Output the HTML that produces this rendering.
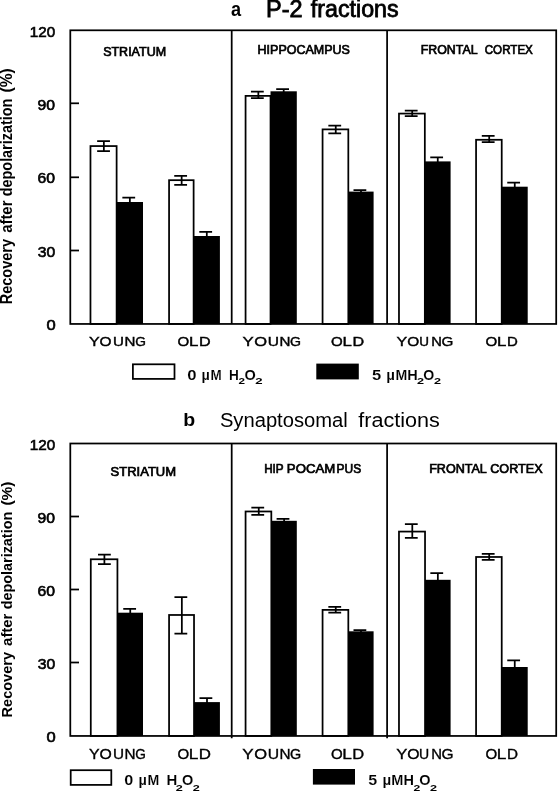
<!DOCTYPE html>
<html><head><meta charset="utf-8"><title>Figure</title>
<style>html,body{margin:0;padding:0;background:#fff}svg{display:block;will-change:transform}</style></head>
<body>
<svg width="558" height="791" viewBox="0 0 558 791" font-family='"Liberation Sans", sans-serif' fill="#000">
<rect width="558" height="791" fill="#fff"/>
<!-- upper chart -->
<rect x="90.47" y="146.07" width="26.15" height="177.88" fill="#fff" stroke="#000" stroke-width="1.75"/>
<rect x="116.62" y="202.00" width="26.38" height="121.95" fill="#000"/>
<path d="M97.15 141.00H109.95M97.15 151.20H109.95M103.85 141.00V151.20" stroke="#000" stroke-width="1.75" fill="none"/>
<path d="M122.35 197.50H135.15M129.85 197.50V203.00" stroke="#000" stroke-width="1.75" fill="none"/>
<rect x="169.07" y="180.18" width="24.55" height="143.77" fill="#fff" stroke="#000" stroke-width="1.75"/>
<rect x="193.62" y="236.00" width="26.28" height="87.95" fill="#000"/>
<path d="M174.25 175.80H187.05M174.25 184.90H187.05M181.65 175.80V184.90" stroke="#000" stroke-width="1.75" fill="none"/>
<path d="M199.30 231.90H212.10M206.80 231.90V237.00" stroke="#000" stroke-width="1.75" fill="none"/>
<rect x="245.57" y="95.88" width="24.95" height="228.07" fill="#fff" stroke="#000" stroke-width="1.75"/>
<rect x="270.52" y="91.30" width="26.28" height="232.65" fill="#000"/>
<path d="M250.95 91.60H263.75M250.95 98.00H263.75M258.35 91.60V98.00" stroke="#000" stroke-width="1.75" fill="none"/>
<path d="M276.20 89.20H289.00M283.70 89.20V92.30" stroke="#000" stroke-width="1.75" fill="none"/>
<rect x="322.57" y="129.38" width="25.75" height="194.57" fill="#fff" stroke="#000" stroke-width="1.75"/>
<rect x="348.32" y="191.60" width="25.28" height="132.35" fill="#000"/>
<path d="M328.35 125.50H341.15M328.35 133.40H341.15M335.75 125.50V133.40" stroke="#000" stroke-width="1.75" fill="none"/>
<path d="M353.50 190.00H366.30M361.00 190.00V192.60" stroke="#000" stroke-width="1.75" fill="none"/>
<rect x="398.98" y="113.58" width="25.85" height="210.38" fill="#fff" stroke="#000" stroke-width="1.75"/>
<rect x="424.82" y="161.40" width="25.78" height="162.55" fill="#000"/>
<path d="M404.80 110.50H417.60M404.80 116.00H417.60M412.20 110.50V116.00" stroke="#000" stroke-width="1.75" fill="none"/>
<path d="M430.25 157.40H443.05M437.75 157.40V162.40" stroke="#000" stroke-width="1.75" fill="none"/>
<rect x="476.07" y="139.78" width="25.65" height="184.17" fill="#fff" stroke="#000" stroke-width="1.75"/>
<rect x="501.73" y="186.70" width="25.98" height="137.25" fill="#000"/>
<path d="M481.80 135.90H494.60M481.80 142.20H494.60M489.20 135.90V142.20" stroke="#000" stroke-width="1.75" fill="none"/>
<path d="M507.25 182.70H520.05M514.75 182.70V187.70" stroke="#000" stroke-width="1.75" fill="none"/>
<rect x="70.3" y="30.3" width="485.90000000000003" height="293.65" fill="none" stroke="#000" stroke-width="1.75"/>
<line x1="231.7" y1="30.3" x2="231.7" y2="323.95" stroke="#000" stroke-width="1.75"/>
<line x1="387.1" y1="30.3" x2="387.1" y2="323.95" stroke="#000" stroke-width="1.75"/>
<line x1="70.3" y1="103.3" x2="79.0" y2="103.3" stroke="#000" stroke-width="1.75"/>
<line x1="70.3" y1="177.3" x2="79.0" y2="177.3" stroke="#000" stroke-width="1.75"/>
<line x1="70.3" y1="250.5" x2="79.0" y2="250.5" stroke="#000" stroke-width="1.75"/>
<!-- lower chart -->
<rect x="90.78" y="559.27" width="26.65" height="176.68" fill="#fff" stroke="#000" stroke-width="1.75"/>
<rect x="117.42" y="612.70" width="25.58" height="123.25" fill="#000"/>
<path d="M98.00 554.50H110.80M98.00 564.00H110.80M104.40 554.50V564.00" stroke="#000" stroke-width="1.75" fill="none"/>
<path d="M123.25 608.80H136.05M130.25 608.80V613.70" stroke="#000" stroke-width="1.75" fill="none"/>
<rect x="169.07" y="614.98" width="24.95" height="120.98" fill="#fff" stroke="#000" stroke-width="1.75"/>
<rect x="194.03" y="702.10" width="25.88" height="33.85" fill="#000"/>
<path d="M174.45 597.20H187.25M174.45 633.50H187.25M181.85 597.20V633.50" stroke="#000" stroke-width="1.75" fill="none"/>
<path d="M199.50 698.00H212.30M207.00 698.00V703.10" stroke="#000" stroke-width="1.75" fill="none"/>
<rect x="245.57" y="511.48" width="25.75" height="224.48" fill="#fff" stroke="#000" stroke-width="1.75"/>
<rect x="271.32" y="520.80" width="25.48" height="215.15" fill="#000"/>
<path d="M251.35 507.60H264.15M251.35 514.90H264.15M258.75 507.60V514.90" stroke="#000" stroke-width="1.75" fill="none"/>
<path d="M276.60 518.80H289.40M284.10 518.80V521.80" stroke="#000" stroke-width="1.75" fill="none"/>
<rect x="322.57" y="609.88" width="25.75" height="126.08" fill="#fff" stroke="#000" stroke-width="1.75"/>
<rect x="348.32" y="631.30" width="25.28" height="104.65" fill="#000"/>
<path d="M328.35 606.90H341.15M328.35 612.60H341.15M335.75 606.90V612.60" stroke="#000" stroke-width="1.75" fill="none"/>
<path d="M353.50 630.00H366.30M361.00 630.00V632.30" stroke="#000" stroke-width="1.75" fill="none"/>
<rect x="398.98" y="531.58" width="26.05" height="204.38" fill="#fff" stroke="#000" stroke-width="1.75"/>
<rect x="425.02" y="579.80" width="25.58" height="156.15" fill="#000"/>
<path d="M404.90 524.10H417.70M404.90 537.90H417.70M412.30 524.10V537.90" stroke="#000" stroke-width="1.75" fill="none"/>
<path d="M430.35 573.00H443.15M437.85 573.00V580.80" stroke="#000" stroke-width="1.75" fill="none"/>
<rect x="476.07" y="556.98" width="25.65" height="178.98" fill="#fff" stroke="#000" stroke-width="1.75"/>
<rect x="501.73" y="667.00" width="25.98" height="68.95" fill="#000"/>
<path d="M481.80 553.90H494.60M481.80 559.80H494.60M489.20 553.90V559.80" stroke="#000" stroke-width="1.75" fill="none"/>
<path d="M507.25 660.30H520.05M514.75 660.30V668.00" stroke="#000" stroke-width="1.75" fill="none"/>
<rect x="70.3" y="443.5" width="485.90000000000003" height="292.45000000000005" fill="none" stroke="#000" stroke-width="1.75"/>
<line x1="231.7" y1="443.5" x2="231.7" y2="738.25" stroke="#000" stroke-width="1.75"/>
<line x1="387.1" y1="443.5" x2="387.1" y2="738.25" stroke="#000" stroke-width="1.75"/>
<line x1="70.3" y1="516.5" x2="79.0" y2="516.5" stroke="#000" stroke-width="1.75"/>
<line x1="70.3" y1="589.5" x2="79.0" y2="589.5" stroke="#000" stroke-width="1.75"/>
<line x1="70.3" y1="662.5" x2="79.0" y2="662.5" stroke="#000" stroke-width="1.75"/>
<!-- titles -->
<text x="231.0" y="16.3" font-size="20" font-weight="bold" textLength="10.09" lengthAdjust="spacingAndGlyphs">a</text>
<text x="266.0" y="17.0" font-size="23.3" stroke="#000" stroke-width="0.8" textLength="36.53" lengthAdjust="spacingAndGlyphs">P-2</text>
<text x="310.8" y="17.0" font-size="23.3" stroke="#000" stroke-width="0.8" textLength="87.8" lengthAdjust="spacingAndGlyphs">fractions</text>
<text x="183.25" y="426.0" font-size="18.5" font-weight="bold" textLength="11.93" lengthAdjust="spacingAndGlyphs">b</text>
<text x="219.9" y="426.5" font-size="19.5" textLength="127.91" lengthAdjust="spacingAndGlyphs">Synaptosomal</text>
<text x="358.25" y="426.5" font-size="19.5" textLength="81.55" lengthAdjust="spacingAndGlyphs">fractions</text>
<!-- panel labels -->
<text x="103.15" y="55.6" font-size="12.5" stroke="#000" stroke-width="0.7" textLength="62.97" lengthAdjust="spacingAndGlyphs">STRIATUM</text>
<text x="257.55" y="54.4" font-size="12.5" stroke="#000" stroke-width="0.7" textLength="92.39" lengthAdjust="spacingAndGlyphs">HIPPOCAMPUS</text>
<text x="420.65" y="54.2" font-size="12.5" stroke="#000" stroke-width="0.7" textLength="56.91" lengthAdjust="spacingAndGlyphs">FRONTAL</text>
<text x="484.75" y="54.2" font-size="12.5" stroke="#000" stroke-width="0.7" textLength="48.12" lengthAdjust="spacingAndGlyphs">CORTEX</text>
<text x="110.55" y="475.8" font-size="12.5" stroke="#000" stroke-width="0.7" textLength="65.51" lengthAdjust="spacingAndGlyphs">STRIATUM</text>
<text x="264.15" y="473.4" font-size="12.5" stroke="#000" stroke-width="0.7" textLength="19.53" lengthAdjust="spacingAndGlyphs">HIP</text>
<text x="286.85" y="473.4" font-size="12.5" stroke="#000" stroke-width="0.7" textLength="48.42" lengthAdjust="spacingAndGlyphs">POCAM</text>
<text x="336.55" y="473.4" font-size="12.5" stroke="#000" stroke-width="0.7" textLength="24.67" lengthAdjust="spacingAndGlyphs">PUS</text>
<text x="429.15" y="472.8" font-size="12.5" stroke="#000" stroke-width="0.7" textLength="57.68" lengthAdjust="spacingAndGlyphs">FRONTAL</text>
<text x="490.25" y="472.8" font-size="12.5" stroke="#000" stroke-width="0.7" textLength="52.38" lengthAdjust="spacingAndGlyphs">CORTEX</text>
<!-- y tick labels -->
<text x="29.75" y="37.050000000000004" font-size="14.1" stroke="#000" stroke-width="0.6" textLength="25.35" lengthAdjust="spacingAndGlyphs">120</text>
<text x="37.5" y="110.05" font-size="14.1" stroke="#000" stroke-width="0.6" textLength="17.49" lengthAdjust="spacingAndGlyphs">90</text>
<text x="37.5" y="183.35" font-size="14.1" stroke="#000" stroke-width="0.6" textLength="17.52" lengthAdjust="spacingAndGlyphs">60</text>
<text x="37.75" y="257.15000000000003" font-size="14.1" stroke="#000" stroke-width="0.6" textLength="17.49" lengthAdjust="spacingAndGlyphs">30</text>
<text x="46.45" y="330.35" font-size="14.1" stroke="#000" stroke-width="0.6" textLength="9.2" lengthAdjust="spacingAndGlyphs">0</text>
<text x="29.75" y="450.45000000000005" font-size="14.1" stroke="#000" stroke-width="0.6" textLength="25.35" lengthAdjust="spacingAndGlyphs">120</text>
<text x="37.5" y="523.25" font-size="14.1" stroke="#000" stroke-width="0.6" textLength="17.49" lengthAdjust="spacingAndGlyphs">90</text>
<text x="37.5" y="596.35" font-size="14.1" stroke="#000" stroke-width="0.6" textLength="17.52" lengthAdjust="spacingAndGlyphs">60</text>
<text x="37.75" y="669.45" font-size="14.1" stroke="#000" stroke-width="0.6" textLength="17.49" lengthAdjust="spacingAndGlyphs">30</text>
<text x="46.45" y="742.35" font-size="14.1" stroke="#000" stroke-width="0.6" textLength="9.2" lengthAdjust="spacingAndGlyphs">0</text>
<!-- x labels -->
<text x="89.1" y="345.5" font-size="12.6" stroke="#000" stroke-width="0.4" textLength="10.7" lengthAdjust="spacingAndGlyphs">Y</text>
<text x="99.6" y="345.5" font-size="12.6" stroke="#000" stroke-width="0.4" textLength="11.98" lengthAdjust="spacingAndGlyphs">O</text>
<text x="112.9" y="345.5" font-size="12.6" stroke="#000" stroke-width="0.4" textLength="10.93" lengthAdjust="spacingAndGlyphs">U</text>
<text x="124.5" y="345.5" font-size="12.6" stroke="#000" stroke-width="0.4" textLength="10.93" lengthAdjust="spacingAndGlyphs">N</text>
<text x="135.2" y="345.5" font-size="12.6" stroke="#000" stroke-width="0.4" textLength="10.66" lengthAdjust="spacingAndGlyphs">G</text>
<text x="242.5" y="345.5" font-size="12.6" stroke="#000" stroke-width="0.4" textLength="11.21" lengthAdjust="spacingAndGlyphs">Y</text>
<text x="254.2" y="345.5" font-size="12.6" stroke="#000" stroke-width="0.4" textLength="12.79" lengthAdjust="spacingAndGlyphs">O</text>
<text x="267.7" y="345.5" font-size="12.6" stroke="#000" stroke-width="0.4" textLength="11.24" lengthAdjust="spacingAndGlyphs">U</text>
<text x="279.4" y="345.5" font-size="12.6" stroke="#000" stroke-width="0.4" textLength="10.94" lengthAdjust="spacingAndGlyphs">N</text>
<text x="290.0" y="345.5" font-size="12.6" stroke="#000" stroke-width="0.4" textLength="10.95" lengthAdjust="spacingAndGlyphs">G</text>
<text x="396.4" y="345.5" font-size="12.6" stroke="#000" stroke-width="0.4" textLength="10.7" lengthAdjust="spacingAndGlyphs">Y</text>
<text x="407.2" y="345.5" font-size="12.6" stroke="#000" stroke-width="0.4" textLength="11.98" lengthAdjust="spacingAndGlyphs">O</text>
<text x="419.25" y="345.5" font-size="12.6" stroke="#000" stroke-width="0.4" textLength="9.72" lengthAdjust="spacingAndGlyphs">U</text>
<text x="431.2" y="345.5" font-size="12.6" stroke="#000" stroke-width="0.4" textLength="10.63" lengthAdjust="spacingAndGlyphs">N</text>
<text x="441.6" y="345.5" font-size="12.6" stroke="#000" stroke-width="0.4" textLength="11.82" lengthAdjust="spacingAndGlyphs">G</text>
<text x="177.4" y="345.5" font-size="12.6" stroke="#000" stroke-width="0.4" textLength="11.7" lengthAdjust="spacingAndGlyphs">O</text>
<text x="189.0" y="345.5" font-size="12.6" stroke="#000" stroke-width="0.4" textLength="9.35" lengthAdjust="spacingAndGlyphs">L</text>
<text x="199.0" y="345.5" font-size="12.6" stroke="#000" stroke-width="0.4" textLength="11.67" lengthAdjust="spacingAndGlyphs">D</text>
<text x="330.9" y="345.5" font-size="12.6" stroke="#000" stroke-width="0.4" textLength="11.7" lengthAdjust="spacingAndGlyphs">O</text>
<text x="342.5" y="345.5" font-size="12.6" stroke="#000" stroke-width="0.4" textLength="9.35" lengthAdjust="spacingAndGlyphs">L</text>
<text x="352.5" y="345.5" font-size="12.6" stroke="#000" stroke-width="0.4" textLength="11.68" lengthAdjust="spacingAndGlyphs">D</text>
<text x="485.4" y="345.5" font-size="12.6" stroke="#000" stroke-width="0.4" textLength="11.7" lengthAdjust="spacingAndGlyphs">O</text>
<text x="497.0" y="345.5" font-size="12.6" stroke="#000" stroke-width="0.4" textLength="9.35" lengthAdjust="spacingAndGlyphs">L</text>
<text x="507.0" y="345.5" font-size="12.6" stroke="#000" stroke-width="0.4" textLength="10.82" lengthAdjust="spacingAndGlyphs">D</text>
<text x="89.1" y="758.6" font-size="14.0" stroke="#000" stroke-width="0.35" textLength="10.61" lengthAdjust="spacingAndGlyphs">Y</text>
<text x="99.6" y="758.6" font-size="14.0" stroke="#000" stroke-width="0.35" textLength="12.26" lengthAdjust="spacingAndGlyphs">O</text>
<text x="112.9" y="758.6" font-size="14.0" stroke="#000" stroke-width="0.35" textLength="11.05" lengthAdjust="spacingAndGlyphs">U</text>
<text x="124.5" y="758.6" font-size="14.0" stroke="#000" stroke-width="0.35" textLength="11.05" lengthAdjust="spacingAndGlyphs">N</text>
<text x="135.2" y="758.6" font-size="14.0" stroke="#000" stroke-width="0.35" textLength="10.61" lengthAdjust="spacingAndGlyphs">G</text>
<text x="242.25" y="758.6" font-size="14.0" stroke="#000" stroke-width="0.35" textLength="11.37" lengthAdjust="spacingAndGlyphs">Y</text>
<text x="254.2" y="758.6" font-size="14.0" stroke="#000" stroke-width="0.35" textLength="12.8" lengthAdjust="spacingAndGlyphs">O</text>
<text x="267.7" y="758.6" font-size="14.0" stroke="#000" stroke-width="0.35" textLength="11.36" lengthAdjust="spacingAndGlyphs">U</text>
<text x="279.4" y="758.6" font-size="14.0" stroke="#000" stroke-width="0.35" textLength="11.05" lengthAdjust="spacingAndGlyphs">N</text>
<text x="290.0" y="758.6" font-size="14.0" stroke="#000" stroke-width="0.35" textLength="11.18" lengthAdjust="spacingAndGlyphs">G</text>
<text x="396.15" y="758.6" font-size="14.0" stroke="#000" stroke-width="0.35" textLength="11.12" lengthAdjust="spacingAndGlyphs">Y</text>
<text x="407.2" y="758.6" font-size="14.0" stroke="#000" stroke-width="0.35" textLength="12.26" lengthAdjust="spacingAndGlyphs">O</text>
<text x="419.0" y="758.6" font-size="14.0" stroke="#000" stroke-width="0.35" textLength="10.13" lengthAdjust="spacingAndGlyphs">U</text>
<text x="431.2" y="758.6" font-size="14.0" stroke="#000" stroke-width="0.35" textLength="10.74" lengthAdjust="spacingAndGlyphs">N</text>
<text x="441.6" y="758.6" font-size="14.0" stroke="#000" stroke-width="0.35" textLength="12.04" lengthAdjust="spacingAndGlyphs">G</text>
<text x="177.4" y="758.6" font-size="14.0" stroke="#000" stroke-width="0.35" textLength="11.71" lengthAdjust="spacingAndGlyphs">O</text>
<text x="188.75" y="758.6" font-size="14.0" stroke="#000" stroke-width="0.35" textLength="9.6" lengthAdjust="spacingAndGlyphs">L</text>
<text x="198.75" y="758.6" font-size="14.0" stroke="#000" stroke-width="0.35" textLength="12.21" lengthAdjust="spacingAndGlyphs">D</text>
<text x="330.9" y="758.6" font-size="14.0" stroke="#000" stroke-width="0.35" textLength="11.71" lengthAdjust="spacingAndGlyphs">O</text>
<text x="342.25" y="758.6" font-size="14.0" stroke="#000" stroke-width="0.35" textLength="9.6" lengthAdjust="spacingAndGlyphs">L</text>
<text x="352.25" y="758.6" font-size="14.0" stroke="#000" stroke-width="0.35" textLength="11.92" lengthAdjust="spacingAndGlyphs">D</text>
<text x="485.4" y="758.6" font-size="14.0" stroke="#000" stroke-width="0.35" textLength="11.71" lengthAdjust="spacingAndGlyphs">O</text>
<text x="496.75" y="758.6" font-size="14.0" stroke="#000" stroke-width="0.35" textLength="9.6" lengthAdjust="spacingAndGlyphs">L</text>
<text x="507.0" y="758.6" font-size="14.0" stroke="#000" stroke-width="0.35" textLength="11.02" lengthAdjust="spacingAndGlyphs">D</text>
<!-- y-axis labels -->
<text transform="translate(12.2 303.3) rotate(-90)" x="-1.0" y="0" font-size="15.7" font-weight="bold" textLength="65.31" lengthAdjust="spacingAndGlyphs">Recovery</text>
<text transform="translate(12.2 303.3) rotate(-90)" x="70.5" y="0" font-size="15.7" font-weight="bold" textLength="32.23" lengthAdjust="spacingAndGlyphs">after</text>
<text transform="translate(12.2 303.3) rotate(-90)" x="107.1" y="0" font-size="15.7" font-weight="bold" textLength="97.44" lengthAdjust="spacingAndGlyphs">depolarization</text>
<text transform="translate(12.2 303.3) rotate(-90)" x="210.85" y="0" font-size="15.7" font-weight="bold" textLength="24.14" lengthAdjust="spacingAndGlyphs">(%)</text>
<text transform="translate(12.2 716.4) rotate(-90)" x="-1.0" y="0" font-size="14.8" font-weight="bold" textLength="65.37" lengthAdjust="spacingAndGlyphs">Recovery</text>
<text transform="translate(12.2 716.4) rotate(-90)" x="70.5" y="0" font-size="14.8" font-weight="bold" textLength="32.33" lengthAdjust="spacingAndGlyphs">after</text>
<text transform="translate(12.2 716.4) rotate(-90)" x="107.1" y="0" font-size="14.8" font-weight="bold" textLength="97.52" lengthAdjust="spacingAndGlyphs">depolarization</text>
<text transform="translate(12.2 716.4) rotate(-90)" x="210.85" y="0" font-size="14.8" font-weight="bold" textLength="24.09" lengthAdjust="spacingAndGlyphs">(%)</text>
<!-- legends -->
<rect x="132.9" y="364.3" width="41.6" height="14.6" fill="#fff" stroke="#000" stroke-width="1.75"/>
<rect x="316.3" y="363.6" width="42.5" height="15.8" fill="#000"/>
<text x="187.25" y="379.7" font-size="14.5" font-weight="bold" stroke="#fff" stroke-width="0.12" textLength="9.33" lengthAdjust="spacingAndGlyphs">0</text>
<text x="201.6" y="379.7" font-size="14.5" font-weight="bold" stroke="#fff" stroke-width="0.12" textLength="8.37" lengthAdjust="spacingAndGlyphs">µ</text>
<text x="210.5" y="379.7" font-size="14.5" font-weight="bold" stroke="#fff" stroke-width="0.12" textLength="11.19" lengthAdjust="spacingAndGlyphs">M</text>
<text x="229.0" y="379.7" font-size="14.5" font-weight="bold" stroke="#fff" stroke-width="0.12" textLength="9.89" lengthAdjust="spacingAndGlyphs">H</text>
<text x="238.4" y="384.4" font-size="9.6" font-weight="bold" textLength="6.49" lengthAdjust="spacingAndGlyphs">2</text>
<text x="244.55" y="379.7" font-size="14.5" font-weight="bold" stroke="#fff" stroke-width="0.12" textLength="11.28" lengthAdjust="spacingAndGlyphs">O</text>
<text x="255.3" y="384.4" font-size="9.6" font-weight="bold" textLength="7.33" lengthAdjust="spacingAndGlyphs">2</text>
<text x="371.95" y="379.7" font-size="14.5" font-weight="bold" stroke="#fff" stroke-width="0.12" textLength="9.24" lengthAdjust="spacingAndGlyphs">5</text>
<text x="386.3" y="379.7" font-size="14.5" font-weight="bold" stroke="#fff" stroke-width="0.12" textLength="8.71" lengthAdjust="spacingAndGlyphs">µ</text>
<text x="395.5" y="379.7" font-size="14.5" font-weight="bold" stroke="#fff" stroke-width="0.12" textLength="11.8" lengthAdjust="spacingAndGlyphs">M</text>
<text x="407.2" y="379.7" font-size="14.5" font-weight="bold" stroke="#fff" stroke-width="0.12" textLength="10.49" lengthAdjust="spacingAndGlyphs">H</text>
<text x="416.9" y="384.4" font-size="9.6" font-weight="bold" textLength="7.04" lengthAdjust="spacingAndGlyphs">2</text>
<text x="423.15" y="379.7" font-size="14.5" font-weight="bold" stroke="#fff" stroke-width="0.12" textLength="11.0" lengthAdjust="spacingAndGlyphs">O</text>
<text x="433.9" y="384.4" font-size="9.6" font-weight="bold" textLength="7.05" lengthAdjust="spacingAndGlyphs">2</text>
<rect x="70.7" y="770.2" width="40.6" height="14.7" fill="#fff" stroke="#000" stroke-width="1.75"/>
<rect x="312.9" y="769" width="42.1" height="15.6" fill="#000"/>
<text x="124.25" y="785.4" font-size="14.5" font-weight="bold" stroke="#fff" stroke-width="0.12" textLength="9.03" lengthAdjust="spacingAndGlyphs">0</text>
<text x="138.5" y="785.4" font-size="14.5" font-weight="bold" stroke="#fff" stroke-width="0.12" textLength="8.38" lengthAdjust="spacingAndGlyphs">µ</text>
<text x="147.4" y="785.4" font-size="14.5" font-weight="bold" stroke="#fff" stroke-width="0.12" textLength="11.79" lengthAdjust="spacingAndGlyphs">M</text>
<text x="166.4" y="785.4" font-size="14.5" font-weight="bold" stroke="#fff" stroke-width="0.12" textLength="10.8" lengthAdjust="spacingAndGlyphs">H</text>
<text x="175.8" y="791.1999999999999" font-size="9.6" font-weight="bold" textLength="7.05" lengthAdjust="spacingAndGlyphs">2</text>
<text x="181.95" y="785.4" font-size="14.5" font-weight="bold" stroke="#fff" stroke-width="0.12" textLength="11.28" lengthAdjust="spacingAndGlyphs">O</text>
<text x="192.7" y="791.1999999999999" font-size="9.6" font-weight="bold" textLength="7.04" lengthAdjust="spacingAndGlyphs">2</text>
<text x="368.15" y="785.4" font-size="14.5" font-weight="bold" stroke="#fff" stroke-width="0.12" textLength="8.95" lengthAdjust="spacingAndGlyphs">5</text>
<text x="382.4" y="785.4" font-size="14.5" font-weight="bold" stroke="#fff" stroke-width="0.12" textLength="8.71" lengthAdjust="spacingAndGlyphs">µ</text>
<text x="391.3" y="785.4" font-size="14.5" font-weight="bold" stroke="#fff" stroke-width="0.12" textLength="12.09" lengthAdjust="spacingAndGlyphs">M</text>
<text x="403.4" y="785.4" font-size="14.5" font-weight="bold" stroke="#fff" stroke-width="0.12" textLength="10.48" lengthAdjust="spacingAndGlyphs">H</text>
<text x="413.5" y="791.1999999999999" font-size="9.6" font-weight="bold" textLength="6.77" lengthAdjust="spacingAndGlyphs">2</text>
<text x="419.25" y="785.4" font-size="14.5" font-weight="bold" stroke="#fff" stroke-width="0.12" textLength="11.28" lengthAdjust="spacingAndGlyphs">O</text>
<text x="430.0" y="791.1999999999999" font-size="9.6" font-weight="bold" textLength="7.05" lengthAdjust="spacingAndGlyphs">2</text>
</svg>
</body></html>
